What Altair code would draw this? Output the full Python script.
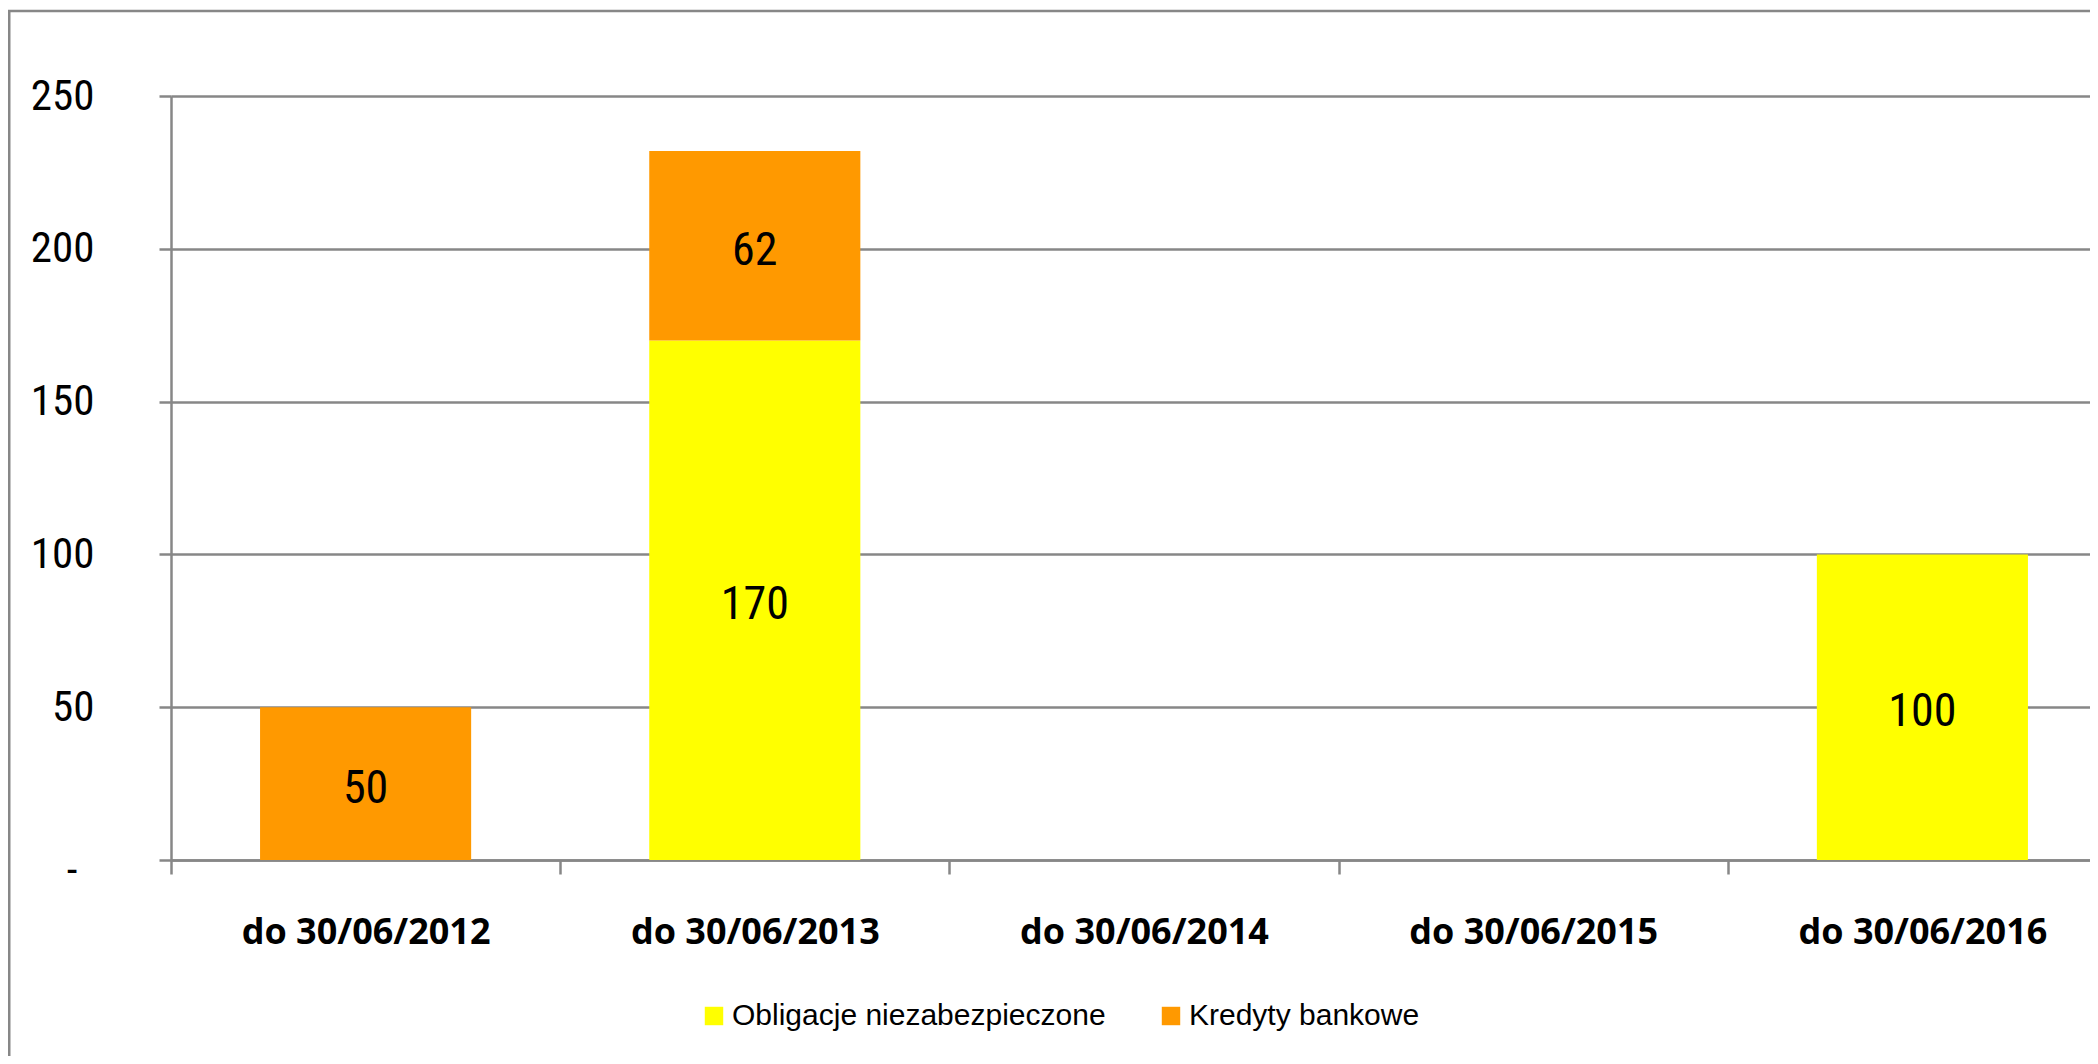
import altair as alt
import pandas as pd

categories = ["do 30/06/2012", "do 30/06/2013", "do 30/06/2014", "do 30/06/2015", "do 30/06/2016"]
series = ["Obligacje niezabezpieczone", "Kredyty bankowe"]
obligacje = [0, 170, 0, 0, 100]
kredyty = [50, 62, 0, 0, 0]
colors = ["#FFFF00", "#FF9900"]
y_ticks = [0, 50, 100, 150, 200, 250]

rows = []
for i, c in enumerate(categories):
    rows.append({"cat": c, "series": series[0], "value": obligacje[i], "order": 0})
    rows.append({"cat": c, "series": series[1], "value": kredyty[i], "order": 1})
df = pd.DataFrame(rows)

GRAY = "#878787"
NARROW = "Liberation Sans Narrow, Roboto Condensed, DejaVu Sans Condensed, Liberation Sans, sans-serif"

x_scale = alt.Scale(domain=categories, range=[0, 1946], paddingInner=0.4576, paddingOuter=0.2288)
y_scale = alt.Scale(domain=[0, 250], nice=False)

base = alt.Chart(df).transform_stack(
    stack="value", as_=["v0", "v1"], groupby=["cat"],
    sort=[alt.SortField("order", order="ascending")]
).transform_calculate(mid="(datum.v0 + datum.v1) / 2")

bars = base.mark_bar().encode(
    x=alt.X("cat:N", sort=categories, scale=x_scale,
            axis=alt.Axis(title=None, labelAngle=0, labelFont="Open Sans", labelFontWeight="bold",
                          labelFontSize=36, labelColor="black", labelPadding=58, labelLimit=0,
                          labelBaseline="middle", labelOverlap=False,
                          tickSize=14, tickColor=GRAY, tickWidth=2.5,
                          domainColor=GRAY, domainWidth=2.5, grid=False,
                          bandPosition=0.5, tickOffset=-194.6, labelOffset=194.6)),
    y=alt.Y("v0:Q", scale=y_scale,
            axis=alt.Axis(title=None, values=y_ticks, grid=True, gridColor=GRAY, gridWidth=2.5,
                          tickSize=12, tickColor=GRAY, tickWidth=2.5,
                          domainColor=GRAY, domainWidth=2.5,
                          labelFont=NARROW, labelFontSize=43, labelColor="black",
                          labelLimit=0,
                          labelPadding={"condition": {"test": "datum.value == 0", "value": 82}, "value": 65},
                          labelExpr="datum.value == 0 ? '-' : datum.label",
                          labelOffset={"condition": {"test": "datum.value == 0", "value": 10}, "value": 0})),
    y2="v1:Q",
    color=alt.Color("series:N", scale=alt.Scale(domain=series, range=colors),
                    legend=alt.Legend(title=None, orient="none", legendX=528, legendY=905,
                                      direction="horizontal", symbolType="square", symbolSize=340,
                                      symbolStrokeWidth=0, symbolOpacity=1,
                                      labelFont="Liberation Sans", labelFontSize=30, labelLimit=0,
                                      labelColor="black", labelOffset=3, columnPadding=50,
                                      padding=0)),
)

text = base.transform_filter("datum.value > 0").mark_text(
    font=NARROW, fontSize=46, color="black", baseline="middle", dy=5
).encode(
    x=alt.X("cat:N", sort=categories, scale=x_scale),
    y=alt.Y("mid:Q", scale=y_scale),
    text=alt.Text("value:Q"),
)

border = alt.Chart(pd.DataFrame({"d": [0]})).mark_rect(
    fillOpacity=0, stroke=GRAY, strokeWidth=2.5
).encode(
    x=alt.value(-161.75), x2=alt.value(4000), y=alt.value(-85), y2=alt.value(4000)
)

chart = alt.layer(border, bars, text).properties(
    width=1919, height=764,
    autosize=alt.AutoSizeParams(type="none"),
    padding={"left": 163, "top": 88, "right": 0, "bottom": 196},
).configure_view(strokeWidth=0).configure(background="white")

chart.save("out.html", embed_options={"renderer": "svg", "actions": False})
